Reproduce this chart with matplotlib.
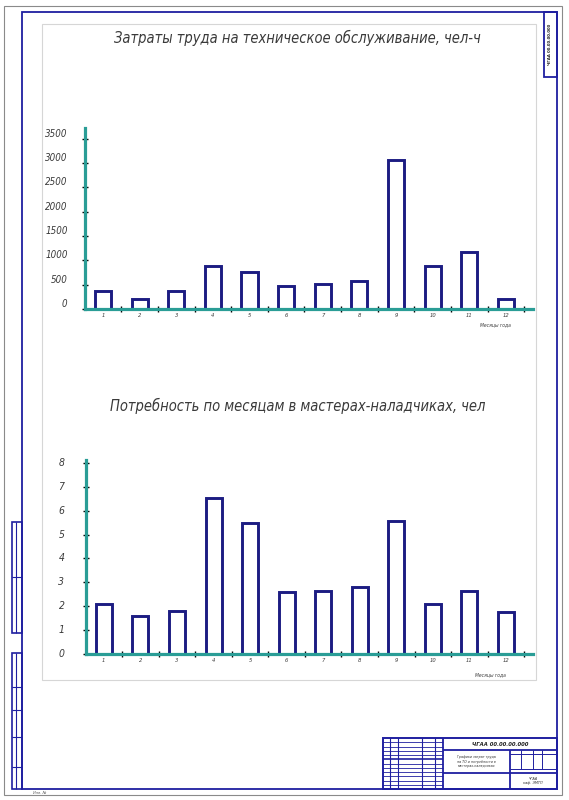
import matplotlib
matplotlib.use("Agg")
import matplotlib.pyplot as plt
from matplotlib.patches import Rectangle

# ---------------- data ----------------
months = ["1", "2", "3", "4", "5", "6", "7", "8", "9", "10", "11", "12"]
labour_hours = [380, 200, 380, 880, 770, 470, 510, 580, 3060, 880, 1170, 200]
labour_ticks = [0, 500, 1000, 1500, 2000, 2500, 3000, 3500]
adjusters = [2.1, 1.6, 1.8, 6.55, 5.5, 2.6, 2.65, 2.8, 5.55, 2.1, 2.65, 1.75]
adjuster_ticks = [0, 1, 2, 3, 4, 5, 6, 7, 8]
title1 = "Затраты труда на техническое обслуживание, чел-ч"
title2 = "Потребность по месяцам в мастерах-наладчиках, чел"
xlabel_text = "Месяцы года"

W, H = 569, 800
NAVY = "#1c1c82"
TEAL = "#2a9d96"
FRAME = "#1f1fa0"
TXT = "#3a3a3a"
FONT = dict(family=["DejaVu Sans"], style="italic", stretch="condensed")

plt.rcParams["font.family"] = ["DejaVu Sans"]

fig = plt.figure(figsize=(W / 100, H / 100), dpi=100)
fig.patch.set_facecolor("white")

# ---------------- drawing frame (pixel coordinates) ----------------
fa = fig.add_axes([0, 0, 1, 1])
fa.set_xlim(0, W)
fa.set_ylim(H, 0)
fa.axis("off")


def rect(x0, y0, x1, y1, ec=FRAME, lw=1.2, fc="none", z=1):
    fa.add_patch(Rectangle((x0, y0), x1 - x0, y1 - y0, ec=ec, fc=fc, lw=lw, zorder=z))


def line(x0, y0, x1, y1, c=FRAME, lw=0.8):
    fa.plot([x0, x1], [y0, y1], color=c, lw=lw, solid_capstyle="butt")


# outer sheet border
rect(4, 6, 562, 795, ec="#8a8a8a", lw=0.8)
# inner frame
rect(22, 12, 557, 789, lw=1.3)
# inserted picture panel
rect(42, 24, 536, 680, ec="#d6d6d6", lw=0.8, fc="white", z=0)

# top-right stamp
rect(544, 12, 557, 77, lw=1.3)
fa.text(550.5, 44, "ЧГАА 00.00.00.000", rotation=90, fontsize=3.2, color="#222",
        ha="center", va="center", fontweight="bold", family=["DejaVu Sans"], stretch="condensed")

# left stamps
rect(12, 522, 22, 633, lw=1.2)
line(16, 522, 16, 633)
line(12, 577, 22, 577)
rect(12, 653, 22, 789, lw=1.2)
line(16, 653, 16, 789)
for yy in (687, 710, 737, 767):
    line(12, yy, 22, yy)

# title block
rect(383, 738, 557, 789, lw=1.4)
for xx in (390, 398, 422, 435):
    line(xx, 738, xx, 789)
line(443, 738, 443, 789, lw=1.3)
for k in range(1, 12):
    yy = 738 + k * 4.25
    line(383, yy, 443, yy, lw=1.2 if k == 5 else 0.6)
line(443, 750, 557, 750, lw=1.3)
line(443, 773, 557, 773, lw=1.3)
line(510, 750, 510, 789, lw=1.3)
line(510, 754, 557, 754, lw=0.7)
line(510, 769, 557, 769, lw=0.7)
for xx in (521, 533, 542):
    line(xx, 750, xx, 769, lw=0.7)
fa.text(500, 744, "ЧГАА 00.00.00.000", fontsize=4.2, color="#222", ha="center", va="center",
        fontweight="bold", **FONT)
fa.text(476.5, 761.5, "Графики затрат труда\nна ТО и потребности в\nмастерах-наладчиках", fontsize=2.6,
        color="#333", ha="center", va="center", linespacing=1.2, **FONT)
fa.text(533, 781, "ЧГАА\nкаф. ЭМТП", fontsize=2.8, color="#333", ha="center", va="center",
        linespacing=1.1, **FONT)


def ax_rect(x0, y0, x1, y1):
    return [x0 / W, 1 - y1 / H, (x1 - x0) / W, (y1 - y0) / H]


def bar_chart(box, values, yticks, ymax, ylabel_size, ylabel_va, ylabel_pad):
    ax = fig.add_axes(ax_rect(*box))
    ax.patch.set_alpha(0)
    x = list(range(len(months)))
    ax.bar(x, values, width=0.44, facecolor="white", edgecolor=NAVY, linewidth=2.1, zorder=2)
    ax.set_xlim(-0.49, 11.74)
    ax.set_ylim(0, ymax)
    for s in ("top", "right"):
        ax.spines[s].set_visible(False)
    for s in ("left", "bottom"):
        ax.spines[s].set_color(TEAL)
        ax.spines[s].set_linewidth(2.3)
        ax.spines[s].set_zorder(2.2)
    ax.set_yticks(yticks, [str(t) for t in yticks])
    ax.tick_params(axis="y", direction="inout", length=5, width=1.0, color="black",
                   labelsize=ylabel_size, labelcolor=TXT, pad=ylabel_pad - 1)
    for lab in ax.get_yticklabels():
        lab.set_verticalalignment(ylabel_va)
        lab.set_fontstyle("italic")
        lab.set_fontstretch("condensed")
    ax.set_xticks(x, months)
    ax.set_xticks([i + 0.5 for i in x], minor=True)
    ax.tick_params(axis="x", which="major", length=0, labelsize=3.8, labelcolor=TXT, pad=3)
    ax.tick_params(axis="x", which="minor", direction="inout", length=5, width=1.0, color="black")
    for lab in ax.get_xticklabels():
        lab.set_fontstyle("italic")
    return ax


bar_chart((85, 128, 533, 309), labour_hours, labour_ticks, 3724, 7, "bottom", 11)
bar_chart((86, 460, 533, 654), adjusters, adjuster_ticks, 8.12, 7.5, "center", 14)

fig.text(297 / W, 1 - 38 / H, title1, fontsize=10.5, color=TXT, ha="center", va="center", **FONT)
fig.text(298 / W, 1 - 406 / H, title2, fontsize=10.5, color=TXT, ha="center", va="center", **FONT)
fig.text(495 / W, 1 - 325 / H, xlabel_text, fontsize=3.6, color=TXT, ha="center", va="center", **FONT)
fig.text(490 / W, 1 - 675 / H, xlabel_text, fontsize=3.6, color=TXT, ha="center", va="center", **FONT)
fig.text(40 / W, 1 - 793 / H, "Инв. №", fontsize=3, color="#666", ha="center", va="center", **FONT)

fig.savefig("out.png", dpi=100)
